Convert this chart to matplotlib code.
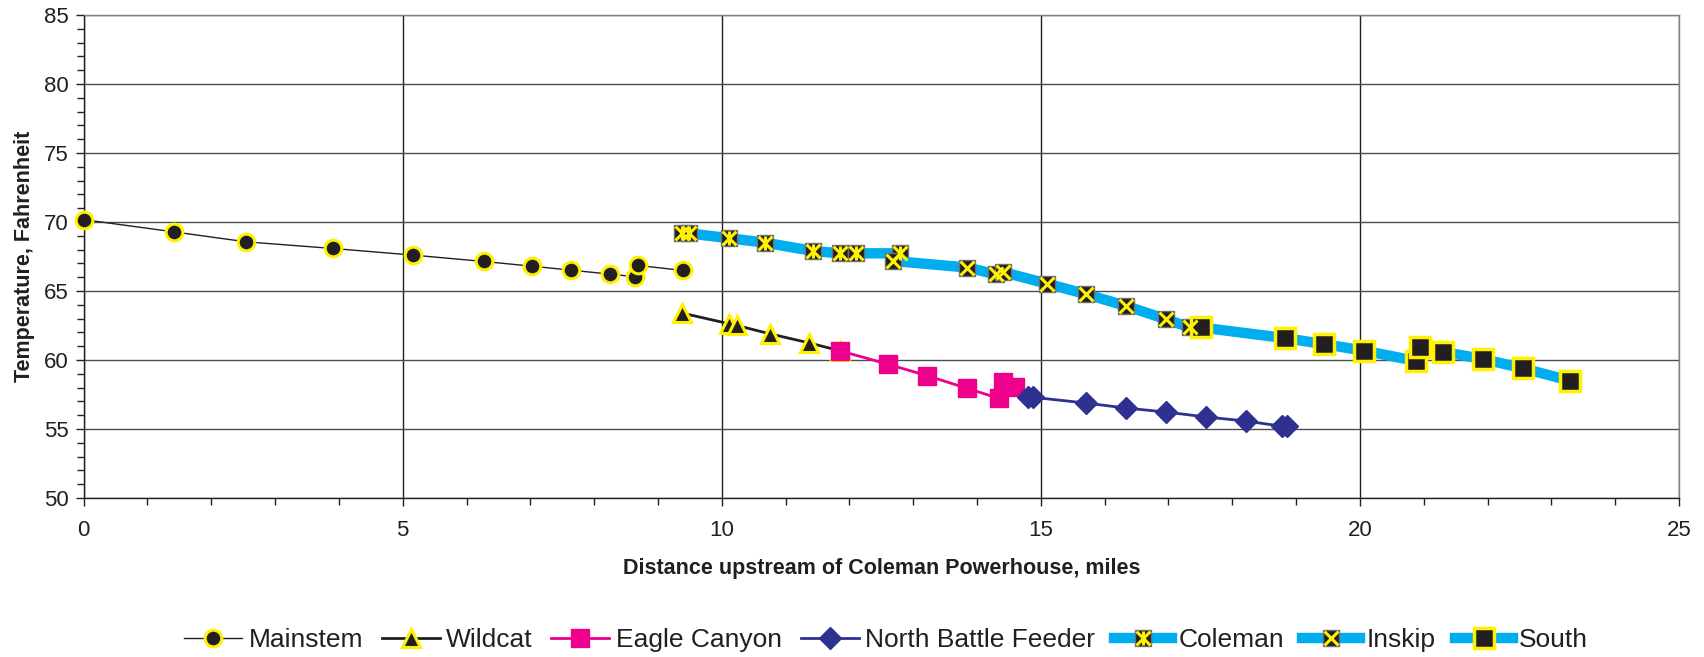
import numpy as np
import matplotlib
matplotlib.use("Agg")
import matplotlib.pyplot as plt
from matplotlib.path import Path
from matplotlib.legend_handler import HandlerTuple
from matplotlib.ticker import MultipleLocator

plt.rcParams['font.family'] = ['Liberation Sans', 'DejaVu Sans']

# %% data (miles upstream, deg F)
mainstem_x = [0.0, 1.42, 2.55, 3.91, 5.16, 6.27, 7.02, 7.64, 8.25, 8.64, 8.69, 9.39]
mainstem_y = [70.17, 69.28, 68.56, 68.08, 67.6, 67.14, 66.8, 66.51, 66.22, 66.03, 66.85, 66.49]

wildcat_x = [9.38, 10.12, 10.24, 10.75, 11.36, 11.85]
wildcat_y = [63.4, 62.62, 62.5, 61.9, 61.25, 60.67]

eagle_x = [11.85, 12.6, 13.22, 13.85, 14.34, 14.41, 14.59]
eagle_y = [60.67, 59.7, 58.86, 57.94, 57.22, 58.43, 58.04]

nbf_x = [14.8, 14.87, 15.71, 16.33, 16.96, 17.59, 18.21, 18.78, 18.85]
nbf_y = [57.3, 57.3, 56.88, 56.52, 56.23, 55.87, 55.58, 55.2, 55.2]

coleman_x = [9.38, 9.48, 10.12, 10.68, 11.43, 11.85, 12.1, 12.79]
coleman_y = [69.23, 69.18, 68.82, 68.5, 67.9, 67.73, 67.73, 67.73]

inskip_x = [12.68, 13.85, 14.29, 14.4, 15.09, 15.71, 16.33, 16.96, 17.33]
inskip_y = [67.18, 66.7, 66.21, 66.38, 65.54, 64.77, 63.92, 62.96, 62.36]

south_x = [17.51, 18.82, 19.44, 20.07, 20.88, 20.94, 21.31, 21.93, 22.55, 23.29]
south_y = [62.36, 61.59, 61.15, 60.67, 59.93, 60.91, 60.58, 60.07, 59.4, 58.51]

# %% styles
yellow = '#FFF200'
dark = '#231F20'
pink = '#EC008C'
navy = '#2E3192'
cyan = '#00AEEF'

# excel style "star" marker: an X with a vertical bar
star = Path([(-1, -1), (1, 1), (-1, 1), (1, -1), (0, -1), (0, 1)],
            [Path.MOVETO, Path.LINETO, Path.MOVETO, Path.LINETO, Path.MOVETO, Path.LINETO])

fig = plt.figure(figsize=(17.04, 6.57), dpi=100)
ax = fig.add_axes([0.0491, 0.242, 0.9362, 0.7352])

h_main, = ax.plot(mainstem_x, mainstem_y, color=dark, lw=1, marker='o', ms=12,
                  mfc=dark, mec=yellow, mew=2.2, clip_on=False, zorder=3)
h_wild, = ax.plot(wildcat_x, wildcat_y, color=dark, lw=2, marker='^', ms=13,
                  mfc=dark, mec=yellow, mew=2.2, zorder=3)
h_eagle, = ax.plot(eagle_x, eagle_y, color=pink, lw=2, marker='s', ms=13.5,
                   mfc=pink, mec=pink, mew=1, zorder=3)
h_nbf, = ax.plot(nbf_x, nbf_y, color=navy, lw=2, marker='D', ms=11,
                 mfc=navy, mec=navy, mew=1, zorder=3)

h_col, = ax.plot(coleman_x, coleman_y, color=cyan, lw=7.5, marker='s', ms=12,
                 mfc=dark, mec='#6D6E71', mew=1, zorder=4)
h_colx, = ax.plot(coleman_x, coleman_y, ls='none', marker=star, ms=10,
                  mec=yellow, mew=2.2, zorder=5)
h_ins, = ax.plot(inskip_x, inskip_y, color=cyan, lw=7.5, marker='s', ms=11.5,
                 mfc=dark, mec='#6D6E71', mew=1, zorder=4)
h_insx, = ax.plot(inskip_x, inskip_y, ls='none', marker='x', ms=9.5,
                  mec=yellow, mew=2.2, zorder=5)
h_south, = ax.plot(south_x, south_y, color=cyan, lw=7.5, marker='s', ms=14.5,
                   mfc=dark, mec=yellow, mew=2.5, zorder=4)

# %% axes
ax.set_xlim(0, 25)
ax.set_ylim(50, 85)
ax.xaxis.set_major_locator(MultipleLocator(5))
ax.xaxis.set_minor_locator(MultipleLocator(1))
ax.yaxis.set_major_locator(MultipleLocator(5))
ax.yaxis.set_minor_locator(MultipleLocator(1))
ax.tick_params(which='both', direction='out', color=dark, labelcolor=dark, labelsize=16)
ax.tick_params(axis='x', which='major', length=6, width=1, pad=10)
ax.tick_params(axis='x', which='minor', length=5, width=1)
ax.tick_params(axis='y', which='major', length=6, width=1, pad=5)
ax.tick_params(axis='y', which='minor', length=5, width=1)

ax.grid(True, which='major', axis='y', color='#4D4D4D', lw=1)
ax.grid(True, which='major', axis='x', color=dark, lw=1)
ax.set_axisbelow(True)
for s in ['left', 'bottom']:
    ax.spines[s].set_color(dark)
    ax.spines[s].set_linewidth(1)
for s in ['top', 'right']:
    ax.spines[s].set_color('#808080')
    ax.spines[s].set_linewidth(1)

ax.set_xlabel('Distance upstream of Coleman Powerhouse, miles', fontsize=15.5,
              fontweight='bold', color=dark)
ax.xaxis.label.set_va('center')
ax.xaxis.set_label_coords(0.5, -0.145)
ax.set_ylabel('Temperature, Fahrenheit', fontsize=15.5, fontweight='bold', color=dark)
ax.yaxis.label.set_va('center')
ax.yaxis.set_label_coords(-0.0368, 0.5)

handles = [h_main, h_wild, h_eagle, h_nbf, (h_col, h_colx), (h_ins, h_insx), h_south]
labels = ['Mainstem', 'Wildcat', 'Eagle Canyon', 'North Battle Feeder', 'Coleman', 'Inskip', 'South']
leg = fig.legend(handles, labels, loc='center', bbox_to_anchor=(0.52, 0.026), ncol=7,
                 frameon=False, fontsize=19, handlelength=2.2, handletextpad=0.25,
                 columnspacing=0.7, handler_map={tuple: HandlerTuple(ndivide=1)})
for t in leg.get_texts():
    t.set_color(dark)

fig.savefig('out.png', dpi=100)
